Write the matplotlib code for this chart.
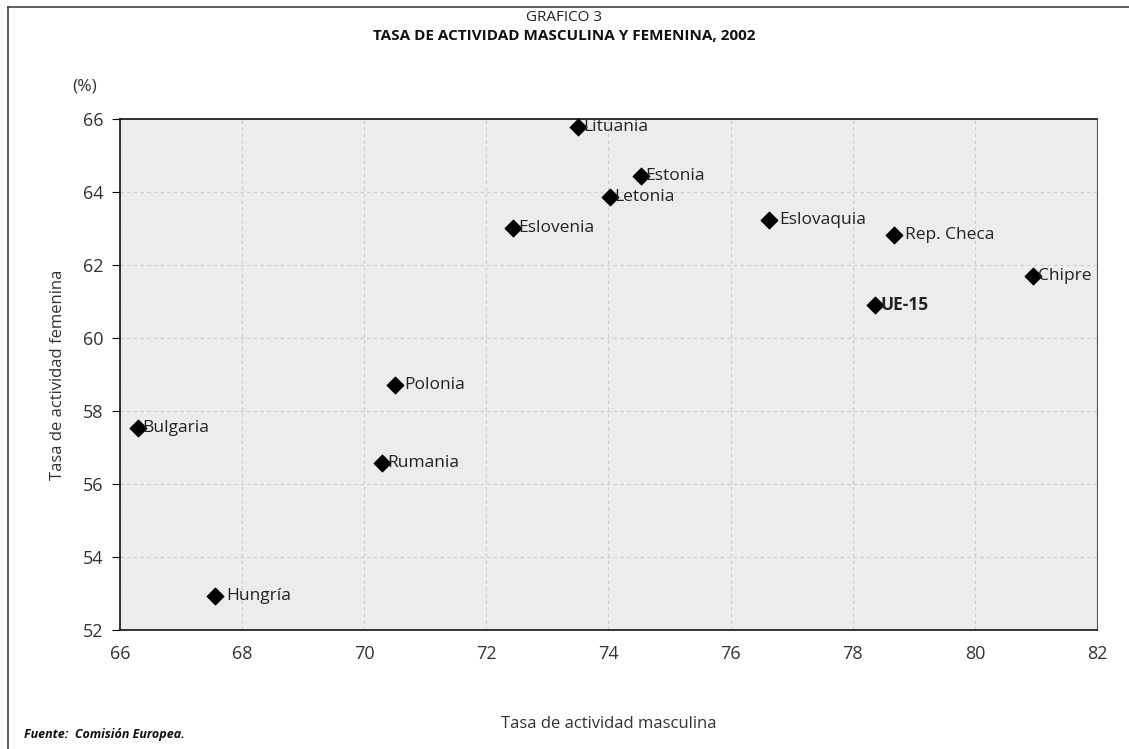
import matplotlib

matplotlib.use("Agg")
import matplotlib.pyplot as plt
from matplotlib.lines import Line2D

plt.rcParams["font.family"] = ["Open Sans", "DejaVu Sans"]

# datos
paises = ["Lituania", "Estonia", "Letonia", "Eslovenia", "Eslovaquia", "Rep. Checa",
          "Chipre", "UE-15", "Polonia", "Bulgaria", "Rumania", "Hungría"]
tasa_masc = [73.50, 74.53, 74.02, 72.44, 76.63, 78.68, 80.95, 78.37, 70.50, 66.29, 70.29, 67.56]
tasa_fem = [65.78, 64.44, 63.86, 63.01, 63.23, 62.82, 61.70, 60.90, 58.71, 57.53, 56.58, 52.93]

x_ticks = [66, 68, 70, 72, 74, 76, 78, 80, 82]
y_ticks = [52, 54, 56, 58, 60, 62, 64, 66]

# separación de las etiquetas respecto al marcador (puntos)
offsets = {"Eslovaquia": 7, "Rep. Checa": 8, "Polonia": 7, "Rumania": 4, "Hungría": 8}

fig = plt.figure(figsize=(11.29, 7.49), dpi=100)
ax = fig.add_axes([0.1063, 0.1589, 0.8653, 0.6822])
ax.set_facecolor("#ececec")

ax.scatter(tasa_masc, tasa_fem, marker="D", s=70, color="black", zorder=3, clip_on=False)
for name, x, y in zip(paises, tasa_masc, tasa_fem):
    ax.annotate(name, (x, y), xytext=(offsets.get(name, 3.5), 0), textcoords="offset points",
                va="center", ha="left", fontsize=12.5, color="#222222",
                fontweight="bold" if name == "UE-15" else "normal", zorder=4)

ax.set_xlim(66, 82)
ax.set_ylim(52, 66)
ax.set_xticks(x_ticks)
ax.set_yticks(y_ticks)
ax.tick_params(axis="x", length=0, pad=11, labelsize=13, labelcolor="#333333")
ax.tick_params(axis="y", length=6, pad=6, labelsize=13, labelcolor="#333333")
ax.grid(True, linestyle=(0, (3, 3)), color="#cccccc", linewidth=0.8)
ax.set_axisbelow(True)
for side in ["left", "bottom", "top"]:
    ax.spines[side].set_linewidth(1.2)
    ax.spines[side].set_color("#111111")
ax.spines["right"].set_color("#555555")

ax.set_xlabel("Tasa de actividad masculina", fontsize=12, color="#333333", labelpad=38)
ax.set_ylabel("Tasa de actividad femenina", fontsize=12, color="#333333", labelpad=12)

fig.text(0.5, 0.977, "GRAFICO 3", ha="center", va="center", fontsize=11, color="#222222")
fig.text(0.5, 0.952, "TASA DE ACTIVIDAD MASCULINA Y FEMENINA, 2002", ha="center",
         va="center", fontsize=11, fontweight="bold", color="#111111")
fig.text(0.0753, 0.885, "(%)", ha="center", va="center", fontsize=12.5, color="#333333")
fig.text(0.021, 0.02, "Fuente:  Comisión Europea.", ha="left", va="center", fontsize=9,
         fontweight="bold", fontstyle="italic", color="#111111")

# marco de la figura (arriba e izquierda)
fig.add_artist(Line2D([0.0071, 1.0], [0.9907, 0.9907], transform=fig.transFigure,
                      color="#444444", linewidth=1.2))
fig.add_artist(Line2D([0.0071, 0.0071], [0.0, 0.9907], transform=fig.transFigure,
                      color="#444444", linewidth=1.2))

fig.savefig("out.png", dpi=100)
